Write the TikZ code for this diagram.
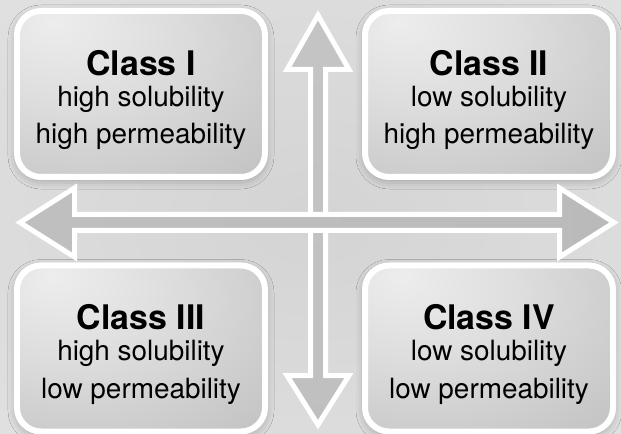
\documentclass[tikz,border=0pt]{standalone}
\usepackage{fontspec}
\setmainfont{TeX Gyre Heros}
\usepackage{xcolor}
\usetikzlibrary{shadows.blur}

\pgfdeclareradialshading{boxfill}{\pgfpoint{-18bp}{22bp}}{color(0bp)=(white!93!black); color(20bp)=(white!87!black); color(50bp)=(white!76!black); color(75bp)=(white!70!black); color(100bp)=(white!68!black)}
\pgfdeclareradialshading{bgfill}{\pgfpointorigin}{color(0bp)=(white!83!black); color(30bp)=(white!87!black); color(55bp)=(white!92!black); color(75bp)=(white!95!black); color(100bp)=(white!96!black)}

\begin{document}
\begin{tikzpicture}[x=1bp, y=-1bp,
  classbox/.style={draw=white, line width=6bp, rounded corners=24bp, minimum width=248bp, minimum height=166bp, shade, shading=boxfill, blur shadow={shadow xshift=0bp, shadow yshift=-3bp, shadow blur radius=9bp, shadow opacity=30}},
  classtext/.style={align=center, inner sep=0pt, font=\fontsize{28}{38}\selectfont},
  bigarrow/.style={draw=white, line width=5bp}]
\useasboundingbox (0,0) rectangle (621,434);
\shade[shading=bgfill] (0,0) rectangle (621,434);

\node[classbox] (cI) at (141,94) {};
\node[classbox] (cII) at (489,94) {};
\node[classbox] (cIII) at (141,348.5) {};
\node[classbox] (cIV) at (489,348.5) {};

\node[classtext] (tI) at ([yshift=-6bp]cI.center) {{\fontsize{34}{34}\selectfont\bfseries Class I}\\[-7bp] high solubility\\ high permeability};
\node[classtext] (tII) at ([yshift=-6bp]cII.center) {{\fontsize{34}{34}\selectfont\bfseries Class II}\\[-7bp] low solubility\\ high permeability};
\node[classtext] (tIII) at ([yshift=-6bp]cIII.center) {{\fontsize{34}{34}\selectfont\bfseries Class III}\\[-7bp] high solubility\\ low permeability};
\node[classtext] (tIV) at ([yshift=-6bp]cIV.center) {{\fontsize{34}{34}\selectfont\bfseries Class IV}\\[-7bp] low solubility\\ low permeability};

\draw[bigarrow, top color=white!77!black, middle color=white!89!black, bottom color=white!75!black]
  (318,15.3) -- (349,69.5) -- (325.5,69.5) -- (325.5,375.5) -- (349,375.5) -- (318,424.7)
  -- (287,375.5) -- (310.5,375.5) -- (310.5,69.5) -- (287,69.5) -- cycle;
\draw[bigarrow, left color=white!75!black, middle color=white!91!black, right color=white!73!black]
  (20,222.5) -- (74.5,188) -- (74.5,214.5) -- (559.5,214.5) -- (559.5,188) -- (614,222.5)
  -- (559.5,257) -- (559.5,230.5) -- (74.5,230.5) -- (74.5,257) -- cycle;
\end{tikzpicture}
\end{document}
